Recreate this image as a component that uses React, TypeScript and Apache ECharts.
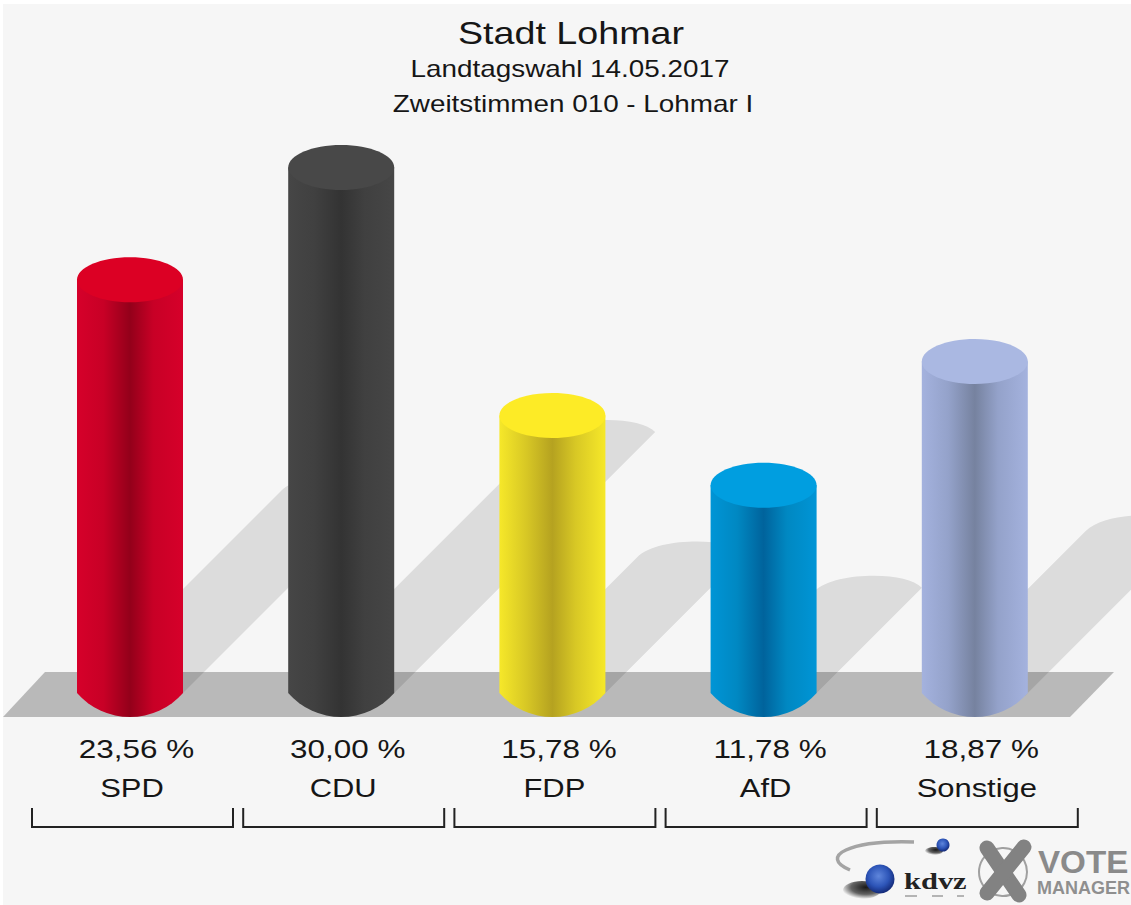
import React, { useEffect, useRef } from "react";
import * as echarts from "echarts";

const parties = ["SPD", "CDU", "FDP", "AfD", "Sonstige"];
const shares = [23.56, 30.0, 15.78, 11.78, 18.87];
const shareLabels = ["23,56 %", "30,00 %", "15,78 %", "11,78 %", "18,87 %"];
const capColors = ["#dc0024", "#484848", "#fdeb26", "#009ee0", "#aab8e2"];
const edgeColors = ["#d6002a", "#464646", "#f6e829", "#0095d6", "#a4b2de"];
const midColors = ["#c80026", "#404040", "#d8c825", "#0088c2", "#94a2ca"];
const darkColors = ["#93001a", "#333333", "#b5a220", "#00639c", "#76829f"];
const titleLines = ["Stadt Lohmar", "Landtagswahl 14.05.2017", "Zweitstimmen 010 - Lohmar I"];

const FONT = '"Liberation Sans", Arial, sans-serif';
const RX = 53;
const RY = 22.5;
const BASE_Y = 693;
const FOOT_R = 70.5;

const renderShadow = (_: any, api: any) => {
  const [cx, ty] = api.coord([api.value(0), api.value(1)]);
  const t = 0.49 * (BASE_Y + 1 - ty);
  const x = cx + t;
  const y = BASE_Y + 1 - t;
  const d =
    `M${x - 52},${y} C${x - 40},${y - 12} ${x - 15},${y - 16} ${x + 8},${y - 16} ` +
    `C${x + 30},${y - 16} ${x + 48},${y - 12} ${x + 56},${y - 4} ` +
    `L${cx + 50},${BASE_Y + 3} L${cx - 52},${BASE_Y + 1} Z`;
  return { type: "path", shape: { pathData: d }, style: { fill: "rgba(0,0,0,0.105)" } };
};

const renderBar = (params: any, api: any) => {
  const i = params.dataIndex;
  const [cx, ty] = api.coord([api.value(0), api.value(1)]);
  const d =
    `M${cx - RX},${ty} L${cx - RX},${BASE_Y} A${FOOT_R} ${FOOT_R} 0 0 0 ${cx + RX},${BASE_Y} L${cx + RX},${ty} Z`;
  return {
    type: "group",
    children: [
      {
        type: "path",
        shape: { pathData: d },
        style: {
          fill: {
            type: "linear",
            x: 0,
            y: 0,
            x2: 1,
            y2: 0,
            colorStops: [
              { offset: 0, color: edgeColors[i] },
              { offset: 0.25, color: midColors[i] },
              { offset: 0.5, color: darkColors[i] },
              { offset: 0.72, color: midColors[i] },
              { offset: 1, color: edgeColors[i] },
            ],
          },
        },
      },
      { type: "ellipse", shape: { cx, cy: ty, rx: RX, ry: RY }, style: { fill: capColors[i] } },
    ],
  };
};

const labelStyle = (text: string) => ({
  text,
  fill: "#161616",
  font: `26px ${FONT}`,
  align: "center",
  verticalAlign: "middle",
  textAlign: "center",
  textVerticalAlign: "middle",
});

const renderLabels = (params: any, api: any) => {
  const i = params.dataIndex;
  const [cx] = api.coord([api.value(0), 0]);
  return {
    type: "group",
    children: [
      { type: "text", x: cx + 6.5, y: 749, scaleX: 1.21, style: labelStyle(shareLabels[i]) },
      { type: "text", x: cx + 2, y: 788, scaleX: 1.19, style: labelStyle(parties[i]) },
      {
        type: "polyline",
        shape: {
          points: [
            [cx - 98, 808],
            [cx - 98, 827],
            [cx + 103, 827],
            [cx + 103, 808],
          ],
        },
        style: { fill: "none", stroke: "#222222", lineWidth: 2 },
      },
    ],
  };
};

const centred = (text: string, x: number, y: number, size: number, scaleX: number) => ({
  type: "text",
  x,
  y,
  scaleX,
  z: 10,
  style: {
    text,
    fill: "#161616",
    font: `${size}px ${FONT}`,
    textAlign: "center",
    textVerticalAlign: "middle",
    align: "center",
    verticalAlign: "middle",
  },
});

const sphere = (cx: number, cy: number, r: number) => ({
  type: "circle",
  z: 10,
  shape: { cx, cy, r },
  style: {
    fill: {
      type: "radial",
      x: 0.45,
      y: 0.4,
      r: 0.6,
      colorStops: [
        { offset: 0, color: "#5f86dc" },
        { offset: 0.6, color: "#2d55b8" },
        { offset: 1, color: "#142a78" },
      ],
    },
  },
});

const softShadow = (cx: number, cy: number, rx: number, ry: number) => ({
  type: "ellipse",
  z: 9,
  shape: { cx, cy, rx, ry },
  style: {
    fill: {
      type: "radial",
      x: 0.6,
      y: 0.35,
      r: 0.65,
      colorStops: [
        { offset: 0, color: "rgba(0,0,0,0.9)" },
        { offset: 0.6, color: "rgba(0,0,0,0.6)" },
        { offset: 1, color: "rgba(0,0,0,0)" },
      ],
    },
  },
});

const graphics: any[] = [
  { type: "rect", z: 0, shape: { x: 3, y: 4, width: 1128, height: 901 }, style: { fill: "#f6f6f6" } },
  {
    type: "polygon",
    z: 0,
    shape: { points: [[45, 672], [1114, 672], [1070, 717], [3, 717]] },
    style: { fill: "#b9b9b9" },
  },
  centred(titleLines[0], 571, 33, 32, 1.177),
  centred(titleLines[1], 570, 69, 24, 1.16),
  centred(titleLines[2], 573, 104, 24, 1.16),

  {
    type: "bezierCurve",
    z: 9,
    shape: { x1: 914, y1: 842, x2: 850, y2: 870, cpx1: 850, cpy1: 840, cpx2: 818, cpy2: 856 },
    style: { stroke: "#a4a4a4", lineWidth: 3.5, fill: "none" },
  },
  softShadow(862, 890, 19, 9),
  sphere(880, 879, 14.5),
  softShadow(934, 851, 9, 4),
  sphere(943, 845, 6.5),
  {
    type: "text",
    x: 904,
    y: 881,
    scaleX: 1.27,
    z: 10,
    style: {
      text: "kdvz",
      fill: "#222222",
      font: `bold 24px "Liberation Serif", serif`,
      textAlign: "left",
      textVerticalAlign: "middle",
      align: "left",
      verticalAlign: "middle",
    },
  },
  { type: "rect", z: 10, shape: { x: 905, y: 895, width: 12, height: 2 }, style: { fill: "#b4b4b4" } },
  { type: "rect", z: 10, shape: { x: 932, y: 895, width: 11, height: 2 }, style: { fill: "#b4b4b4" } },
  { type: "rect", z: 10, shape: { x: 957, y: 895, width: 7, height: 2 }, style: { fill: "#b4b4b4" } },

  { type: "circle", z: 10, shape: { cx: 1003, cy: 872, r: 24 }, style: { fill: "none", stroke: "#a0a0a0", lineWidth: 2 } },
  {
    type: "line",
    z: 10,
    shape: { x1: 987, y1: 848, x2: 1019, y2: 895 },
    style: { stroke: "#828282", lineWidth: 15, lineCap: "round" },
  },
  {
    type: "line",
    z: 10,
    shape: { x1: 1024, y1: 847, x2: 987, y2: 893 },
    style: { stroke: "#828282", lineWidth: 15, lineCap: "round" },
  },
  {
    type: "text",
    x: 1038,
    y: 862,
    scaleX: 1.07,
    z: 10,
    style: {
      text: "VOTE",
      fill: "#8a8a8a",
      font: `bold 31px ${FONT}`,
      textAlign: "left",
      textVerticalAlign: "middle",
      align: "left",
      verticalAlign: "middle",
    },
  },
  {
    type: "text",
    x: 1037,
    y: 888,
    scaleX: 1.03,
    z: 10,
    style: {
      text: "MANAGER",
      fill: "#8f8f8f",
      font: `bold 17.5px ${FONT}`,
      textAlign: "left",
      textVerticalAlign: "middle",
      align: "left",
      verticalAlign: "middle",
    },
  },
];

export default function App() {
  const ref = useRef<HTMLDivElement>(null);
  useEffect(() => {
    document.body.style.margin = "0";
    document.body.style.overflow = "hidden";
    const chart = echarts.init(ref.current!, null, { renderer: "svg" });
    const data = shares.map((v, i) => [i, v]);
    chart.setOption({
      animation: false,
      backgroundColor: "#ffffff",
      tooltip: { show: false },
      grid: { left: 24.4, width: 1056, top: 167.5, height: 523 },
      xAxis: { type: "category", data: parties, show: false },
      yAxis: { type: "value", min: 0, max: 30, show: false },
      graphic: graphics,
      series: [
        { type: "custom", z: 2, renderItem: renderShadow, data, encode: { x: 0, y: 1 }, silent: true },
        { type: "custom", z: 3, renderItem: renderBar, data, encode: { x: 0, y: 1 }, silent: true },
        { type: "custom", z: 4, renderItem: renderLabels, data, encode: { x: 0, y: 1 }, silent: true },
      ],
    });
    return () => chart.dispose();
  }, []);
  return <div ref={ref} style={{ width: 1131, height: 905 }} />;
}
